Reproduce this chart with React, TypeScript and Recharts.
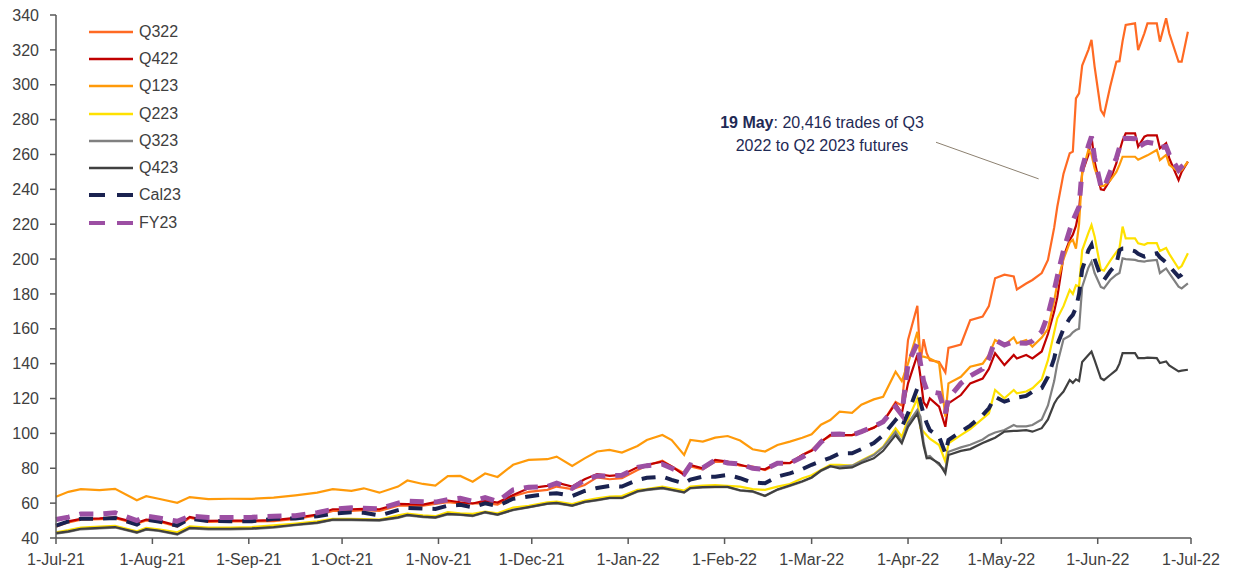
import React from "react";
import {
  LineChart,
  Line,
  XAxis,
  YAxis,
  ReferenceLine,
} from "recharts";

const FONT = '"Liberation Sans", Arial, sans-serif';

// trading dates (sampled), one entry per point of every series
const dates = [
  "2021-07-01", "2021-07-05", "2021-07-09", "2021-07-15", "2021-07-20", "2021-07-27", "2021-07-30", "2021-08-03", "2021-08-09", "2021-08-13", "2021-08-19", "2021-08-26",
  "2021-09-02", "2021-09-09", "2021-09-16", "2021-09-23", "2021-09-28", "2021-10-04", "2021-10-08", "2021-10-13", "2021-10-19", "2021-10-22", "2021-10-27", "2021-10-31",
  "2021-11-04", "2021-11-08", "2021-11-12", "2021-11-16", "2021-11-20", "2021-11-25", "2021-11-30", "2021-12-06", "2021-12-09", "2021-12-14", "2021-12-18", "2021-12-22", "2021-12-26", "2021-12-30",
  "2022-01-04", "2022-01-07", "2022-01-12", "2022-01-15", "2022-01-19", "2022-01-21", "2022-01-25", "2022-01-29", "2022-02-02", "2022-02-06", "2022-02-10", "2022-02-14", "2022-02-18", "2022-02-22", "2022-02-26",
  "2022-03-01", "2022-03-04", "2022-03-07", "2022-03-10", "2022-03-14", "2022-03-17", "2022-03-21", "2022-03-24", "2022-03-28", "2022-03-30",
  "2022-04-01", "2022-04-04", "2022-04-05", "2022-04-06", "2022-04-07", "2022-04-08", "2022-04-11", "2022-04-13", "2022-04-14", "2022-04-18", "2022-04-21", "2022-04-25", "2022-04-27", "2022-04-29",
  "2022-05-02", "2022-05-05", "2022-05-06", "2022-05-09", "2022-05-11", "2022-05-14", "2022-05-16", "2022-05-18", "2022-05-19",
  "2022-05-21", "2022-05-23", "2022-05-24", "2022-05-25", "2022-05-26", "2022-05-27", "2022-05-29", "2022-05-30", "2022-05-31", "2022-06-02", "2022-06-03", "2022-06-05", "2022-06-07", "2022-06-08", "2022-06-09", "2022-06-10",
  "2022-06-13", "2022-06-14", "2022-06-16", "2022-06-17", "2022-06-20", "2022-06-21", "2022-06-23", "2022-06-24", "2022-06-27", "2022-06-28", "2022-06-30",
];

const q322 = [
  46.5, 49, 50.5, 50.8, 51.3, 48.2, 50.1, 49.5, 46.6, 51.6, 49.3, 49.5,
  49.5, 49.7, 51, 53, 55.5, 55.5, 56, 55.5, 58.5, 58.5, 58.5, 59.5,
  60.5, 59.9, 59.9, 60, 59.2, 64, 66.5, 67.6, 69.5, 68, 70.4, 74.8, 73.7, 74.3,
  79, 81.5, 84.4, 81, 77.1, 81, 79.4, 83.8, 83.5, 81.5, 81, 79, 82.5, 83, 87.6,
  90.5, 95.5, 98.5, 99, 99, 100.5, 103.3, 106.7, 118, 116,
  153.6, 173.2, 140.4, 154, 146, 142, 141, 135, 149, 151, 165, 167, 173, 189,
  191, 190, 182.6, 186, 188, 192, 199.5, 218, 230,
  249, 260.7, 261.6, 292.2, 295, 311, 320, 325.7, 310.4, 285.5, 282.6, 298.9, 313.2, 313.5, 325, 334.3,
  335.2, 319.9, 329.5, 335.2, 335.2, 324.7, 338.1, 329.5, 313.2, 313.2, 330.4,
];

const q422 = [
  47.1, 49.5, 51, 51.3, 51.8, 48.7, 50.6, 50, 47.1, 52.1, 49.8, 50,
  50, 50.2, 51.5, 53.5, 56.5, 56.5, 56.7, 56.5, 59.6, 59.4, 59.2, 60.6,
  61.5, 60.5, 59.8, 61.4, 60.3, 64.7, 68.5, 69.9, 71.8, 69.5, 73.7, 76.7, 75.6, 76.2,
  80.6, 82, 83.8, 81, 76.2, 81.9, 80, 84.8, 83.8, 82, 80, 79.4, 83.2, 82.9, 87.6,
  90, 95, 99.1, 99, 99, 100.5, 103.3, 106.7, 117.2, 111.5,
  128.7, 145, 132.5, 118, 115.3, 120.1, 115.3, 103.8, 117.2, 122, 128.7, 131.5, 137, 146,
  139.2, 145, 143, 145, 143, 147, 157, 170, 178,
  201.4, 211, 214, 219, 228, 249.4, 259.7, 270.2, 256, 240, 239.6, 245.3, 255, 262, 268, 272.1,
  272.1, 264.5, 270.2, 271, 271, 263.5, 266.4, 257.8, 245.3, 250, 255.9,
];

const q123 = [
  63.7, 66.5, 68, 67.5, 68.2, 61.7, 64, 62.5, 60.2, 63.5, 62.3, 62.5,
  62.5, 63.2, 64.5, 66, 68, 67, 68.5, 66, 69.5, 73, 71, 70,
  75.5, 75.6, 72.3, 77, 75, 82, 84.8, 85.2, 86.7, 81.3, 85.7, 89.6, 90.5, 89,
  92.8, 96.2, 99.1, 96.2, 87.6, 96.2, 95.3, 97.6, 98.5, 95.9, 90.9, 89.6, 93.4, 95.3, 97.5,
  99.5, 105, 107.7, 112.5, 111.8, 116.5, 119.5, 121, 135.4, 130,
  140, 158.3, 144, 144, 143.5, 143, 140.2, 109.6, 128.7, 132.5, 138.3, 140, 145, 153.6,
  150.7, 155, 151.7, 153.6, 149.8, 155, 160, 176, 186,
  200, 209.5, 211, 206, 220, 249.2, 262.6, 260, 252, 242, 242, 245, 250, 254, 258.7, 258.7,
  258.7, 257, 258.7, 259.5, 262.6, 256.8, 259.7, 254, 250, 251, 255.9,
];

const q223 = [
  43.3, 44.5, 46, 46.5, 47, 43.8, 45.8, 45, 43.3, 46.7, 46, 46,
  46.3, 47.2, 48.3, 49.5, 51, 51, 50.8, 50.6, 53, 54, 53, 52.5,
  54.8, 54.2, 53.8, 55.1, 54.2, 57.5, 58.5, 60.5, 60.9, 59.5, 61.5, 62.8, 63.7, 64.1,
  67.6, 68, 69.5, 68.5, 67.2, 69.5, 70, 70.4, 69.9, 69.5, 68, 67.6, 69.5, 71, 74.3,
  76, 79, 81.9, 82, 81.5, 84.5, 88, 92.4, 102.9, 98.1,
  108, 120.1, 102.9, 101, 99, 97, 93.3, 83.8, 94.3, 99, 102.5, 108.5, 111.5, 124.9,
  120.1, 124.9, 123, 124, 125.9, 131, 142, 158, 166,
  173, 182.3, 180, 185, 184.2, 205, 215, 219.5, 213, 194, 193.4, 199, 204, 206.2, 218.6, 211.9,
  211.9, 209, 208.2, 209.1, 209.1, 204.6, 206.4, 203, 194.6, 196, 203.3,
];

const q323 = [
  42.5, 43.5, 45, 45.5, 46, 42.9, 44.8, 44, 41.9, 45.5, 45, 45,
  45.2, 46, 47.3, 48.5, 50.3, 50.2, 50.1, 50, 51.5, 52.9, 52, 51.5,
  53.5, 53.2, 52.6, 54.6, 53.2, 56, 57.5, 59.5, 59.9, 58.4, 60.5, 61.6, 62.8, 62.8,
  66.6, 67.5, 68.5, 67.5, 66, 68.5, 69, 69.1, 69.1, 67.2, 66.6, 64, 67.6, 69.9, 72.3,
  74.5, 78.5, 81, 81, 81.5, 84, 87.6, 92, 101, 95.2,
  105.8, 113.4, 109.6, 95, 86.6, 87, 81.9, 79, 89.5, 92, 93.5, 96.5, 99, 100.5,
  101.9, 104.8, 104, 104, 104.8, 108, 116, 130, 140,
  154, 156, 158, 159.3, 160, 184, 195, 198.5, 192, 184, 183.2, 188, 191, 192, 200.4, 200,
  199.5, 199, 198.5, 199, 199.5, 192, 194.6, 192, 184.2, 183.2, 186,
];

const q423 = [
  42.8, 43.8, 45.3, 45.8, 46.3, 43.2, 45.1, 44.3, 42.2, 45.8, 45.3, 45.3,
  45.5, 46.3, 47.6, 48.8, 50.5, 50.5, 50.4, 50.3, 51.8, 53.2, 52.3, 51.8,
  53.8, 53.4, 52.8, 54.8, 53.4, 56.2, 57.7, 59.7, 60.1, 58.6, 60.7, 61.8, 63, 63,
  66.8, 67.7, 68.7, 67.7, 66.2, 68.7, 69.2, 69.3, 69.3, 67.4, 66.8, 64.2, 67.8, 70.1, 72.5,
  74.7, 78.7, 81.2, 80, 80.5, 83, 85.7, 90, 99.1, 94.3,
  103.8, 111.5, 103.8, 93, 85.7, 86, 82.9, 77.1, 87.6, 90, 91, 94.5, 96, 97.5,
  101, 101.5, 101.5, 101.9, 101, 103, 108, 117, 120,
  124, 130.6, 129, 131, 130, 141, 145, 146.9, 142, 131.6, 130.6, 133.5, 136.4, 140, 146, 146,
  146, 143.2, 143.2, 143.5, 143.2, 140.4, 141.3, 139, 135.6, 136, 136.5,
];

const cal23 = [
  47.1, 49.5, 51, 51, 51.5, 47.7, 50.6, 49.5, 47.1, 51, 49.8, 49.6,
  49.6, 51, 51.2, 52.5, 54, 54.8, 54.5, 52.9, 56, 57.3, 56.9, 56.7,
  58.5, 59, 57.6, 59.9, 58.4, 62.5, 63.8, 65.3, 65.7, 64.1, 67, 68.7, 69.9, 69.5,
  73.3, 74.5, 75.2, 73.3, 71.4, 73.5, 75.2, 75.2, 76.2, 74.3, 71.8, 71.4, 75.2, 77.1, 79.5,
  82, 84, 86, 88.5, 88.6, 91, 94.5, 99, 107.7, 103.8,
  111.5, 125.9, 118, 111, 106, 101.9, 98.1, 88.6, 96.2, 101, 104.5, 110.5, 114.4, 121,
  118.2, 120, 120.5, 121.5, 123.9, 126, 132.5, 143, 151,
  160, 166, 168, 172, 180, 194, 205, 208.1, 200, 190, 188, 193, 197, 205, 206, 206,
  204.5, 203, 201.4, 202, 203.3, 201, 198, 196, 189.9, 191, 194.6,
];

const fy23 = [
  50.6, 52, 53.8, 53.8, 54.5, 50, 52.5, 51.5, 49.6, 52.5, 51.8, 51.7,
  51.9, 52.5, 52.8, 54.5, 56.5, 57.3, 57, 56.7, 60, 61.2, 60.8, 60.6,
  62, 62.8, 61, 63.2, 61, 67.6, 69.1, 69.5, 71.4, 68.5, 73.3, 75.6, 75.6, 76,
  80.5, 81.5, 82.3, 80, 76.7, 81.9, 80.2, 84.8, 83, 82.5, 80, 79.4, 82.9, 82.9, 86.5,
  89, 95, 99.5, 99.7, 99, 101, 104, 106.7, 115.3, 110.6,
  140.2, 151.7, 140.2, 130, 124.9, 124, 123, 111.5, 120.1, 128.7, 133, 137, 143, 153.6,
  150.7, 152.6, 152, 151.7, 153, 158.5, 168, 182, 190,
  205, 216.7, 222, 226, 230, 252, 265, 270.2, 258, 242, 240.5, 250, 258, 264, 269, 269.3,
  269, 264, 266.4, 267, 266, 264, 264.5, 260, 251, 253, 256,
];

const monthTicks = [
  "2021-07-01", "2021-08-01", "2021-09-01", "2021-10-01", "2021-11-01", "2021-12-01", "2022-01-01",
  "2022-02-01", "2022-03-01", "2022-04-01", "2022-05-01", "2022-06-01", "2022-07-01",
];
const yTicks = [40, 60, 80, 100, 120, 140, 160, 180, 200, 220, 240, 260, 280, 300, 320, 340];
const monthNames = ["Jan", "Feb", "Mar", "Apr", "May", "Jun", "Jul", "Aug", "Sep", "Oct", "Nov", "Dec"];

// leader line of the 19 May note
const noteLine = [
  { date: "2022-04-10", value: 267 },
  { date: "2022-05-13", value: 246 },
];

const toTime = (s: string) => Date.UTC(+s.slice(0, 4), +s.slice(5, 7) - 1, +s.slice(8, 10));

const fmtDate = (t: number) => {
  const d = new Date(t);
  return `${d.getUTCDate()}-${monthNames[d.getUTCMonth()]}-${String(d.getUTCFullYear()).slice(2)}`;
};

const series = [
  { key: "Q322", values: q322, color: "#FF6A23", width: 2.2 },
  { key: "Q422", values: q422, color: "#C00000", width: 2.2 },
  { key: "Q123", values: q123, color: "#FF9A0A", width: 2.2 },
  { key: "Q223", values: q223, color: "#FFE100", width: 2.2 },
  { key: "Q323", values: q323, color: "#808080", width: 2.2 },
  { key: "Q423", values: q423, color: "#404040", width: 2.2 },
  { key: "Cal23", values: cal23, color: "#1A2250", width: 4, dash: "14 10" },
  { key: "FY23", values: fy23, color: "#9C4FA3", width: 5, dash: "14 10" },
];

const data = dates.map((d, i) => {
  const row: Record<string, number> = { t: toTime(d) };
  series.forEach((s) => {
    row[s.key] = s.values[i];
  });
  return row;
});

// legend drawn as an overlay so it takes no room from the plot
const LegendBox = () => (
  <div
    style={{
      position: "absolute",
      left: 89,
      top: 18,
      fontFamily: FONT,
      fontSize: 16,
      color: "#404040",
    }}
  >
    {series.map((s) => (
      <div key={s.key} style={{ display: "flex", alignItems: "center", height: 27.3 }}>
        <svg width={44} height={8}>
          <line
            x1={0}
            y1={4}
            x2={44}
            y2={4}
            stroke={s.color}
            strokeWidth={s.dash ? 4 : 2.5}
            strokeDasharray={s.dash ? "16 12" : undefined}
          />
        </svg>
        <span style={{ marginLeft: 6 }}>{s.key}</span>
      </div>
    ))}
  </div>
);

export default function App() {
  return (
    <div style={{ position: "absolute", left: 0, top: 0, width: 1238, height: 573, background: "#fff", fontFamily: FONT }}>
      <LineChart
        width={1238}
        height={573}
        data={data}
        margin={{ top: 15, right: 47, left: 0, bottom: 5 }}
      >
        <XAxis
          dataKey="t"
          type="number"
          scale="time"
          domain={[toTime(monthTicks[0]), toTime(monthTicks[monthTicks.length - 1])]}
          ticks={monthTicks.map(toTime)}
          tickFormatter={fmtDate}
          height={30}
          tickSize={6}
          tickMargin={10}
          axisLine={{ stroke: "#595959", strokeWidth: 1.5 }}
          tickLine={{ stroke: "#595959", strokeWidth: 1.5 }}
          tick={{ fill: "#404040", fontSize: 16, fontFamily: FONT }}
          interval={0}
        />
        <YAxis
          type="number"
          domain={[40, 340]}
          ticks={yTicks}
          width={56}
          tickSize={6}
          tickMargin={11}
          axisLine={{ stroke: "#595959", strokeWidth: 1.5 }}
          tickLine={{ stroke: "#595959", strokeWidth: 1.5 }}
          tick={{ fill: "#404040", fontSize: 16, fontFamily: FONT }}
          interval={0}
        />
        <ReferenceLine
          segment={noteLine.map((p) => ({ x: toTime(p.date), y: p.value }))}
          stroke="#8C8070"
          strokeWidth={1}
          ifOverflow="visible"
        />
        {series.map((s) => (
          <Line
            key={s.key}
            type="linear"
            dataKey={s.key}
            stroke={s.color}
            strokeWidth={s.width}
            strokeDasharray={s.dash}
            dot={false}
            activeDot={false}
            isAnimationActive={false}
          />
        ))}
      </LineChart>
      <LegendBox />
      <div
        style={{
          position: "absolute",
          left: 672,
          top: 111,
          width: 300,
          textAlign: "center",
          fontSize: 16,
          lineHeight: "23px",
          color: "#1F2A55",
        }}
      >
        <b>19 May</b>: 20,416 trades of Q3
        <br />
        2022 to Q2 2023 futures
      </div>
    </div>
  );
}
